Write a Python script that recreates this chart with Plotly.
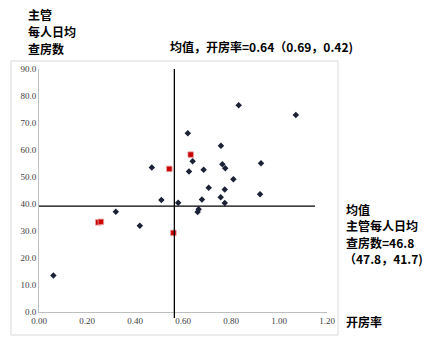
import plotly.graph_objects as go

# ---- data ----
black_x = [0.06, 0.32, 0.42, 0.47, 0.51, 0.58, 0.62, 0.64, 0.625, 0.686, 0.679, 0.707,
           0.665, 0.661, 0.758, 0.764, 0.776, 0.757, 0.774, 0.774, 0.81, 0.832, 0.925, 0.921, 1.07]
black_y = [13.5, 37.1, 31.9, 53.5, 41.5, 40.5, 66.2, 55.8, 52.0, 52.7, 41.7, 46.0,
           38.1, 37.0, 61.6, 54.7, 53.2, 42.5, 45.4, 40.4, 49.2, 76.6, 55.1, 43.6, 73.0]
red_x = [0.543, 0.632, 0.247, 0.258, 0.56]
red_y = [53.0, 58.3, 33.2, 33.4, 29.3]
mean_x = 0.564
mean_y = 39.25
hline_end = 1.15
x_title = "开房率"
y_title_lines = ["主管", "每人日均", "查房数"]
mean_x_text = "均值，开房率=0.64（0.69，0.42)"
mean_y_lines = ["均值", "主管每人日均", "查房数=46.8", "（47.8，41.7)"]

W, H = 436, 348
L, R, T, B = 39, 109, 69, 36
pw, ph = W - L - R, H - T - B

def px(x):
    return (x - L) / pw

def py(y):
    return (H - B - y) / ph

fig = go.Figure()
fig.add_trace(go.Scatter(x=black_x, y=black_y, mode="markers",
                         marker=dict(symbol="diamond", size=5, color="#1b2236"),
                         showlegend=False, cliponaxis=False))
fig.add_trace(go.Scatter(x=red_x, y=red_y, mode="markers",
                         marker=dict(symbol="square", size=5.5, color="#c80000",
                                     line=dict(color="#e8a0a0", width=0.8)),
                         showlegend=False, cliponaxis=False))

fig.add_shape(type="line", xref="x", yref="paper", x0=mean_x, x1=mean_x,
              y0=py(318), y1=1.0, line=dict(color="black", width=1.3))
fig.add_shape(type="line", xref="x", yref="y", x0=0, x1=hline_end,
              y0=mean_y, y1=mean_y, line=dict(color="black", width=1.3))

# outer frame
fig.add_shape(type="rect", xref="paper", yref="paper", x0=px(11), x1=px(338),
              y0=py(335), y1=py(61), line=dict(color="#d9d9d9", width=1), layer="below")

font_b = dict(family="Noto Sans CJK SC", size=12, color="black")
ann = []
for i, t in enumerate(y_title_lines):
    ann.append(dict(x=px(26), y=py(14 + 17 * i), text="<b>%s</b>" % t))
ann.append(dict(x=px(168), y=py(47), text="<b>%s</b>" % mean_x_text))
for i, t in enumerate(mean_y_lines):
    ann.append(dict(x=px(344 if i < 3 else 342), y=py(209 + 16.5 * i), text="<b>%s</b>" % t))
ann.append(dict(x=px(344), y=py(321.5), text="<b>%s</b>" % x_title))
for a in ann:
    a.update(xref="paper", yref="paper", xanchor="left", yanchor="middle",
             showarrow=False, font=font_b)

tf = dict(family="Liberation Serif", size=9, color="#404040")
fig.update_layout(
    width=W, height=H, margin=dict(l=L, r=R, t=T, b=B),
    paper_bgcolor="white", plot_bgcolor="white",
    annotations=ann,
    xaxis=dict(range=[0, 1.2], dtick=0.2, tick0=0, tickformat=".2f", showgrid=False,
               zeroline=False, showline=True, linecolor="#bfbfbf", linewidth=1,
               ticks="", tickfont=tf),
    yaxis=dict(range=[0, 90], dtick=10, tick0=0, tickformat=".1f", showgrid=False,
               zeroline=False, showline=True, linecolor="#bfbfbf", linewidth=1,
               ticks="", tickfont=tf),
)

fig.write_html("out.html")
